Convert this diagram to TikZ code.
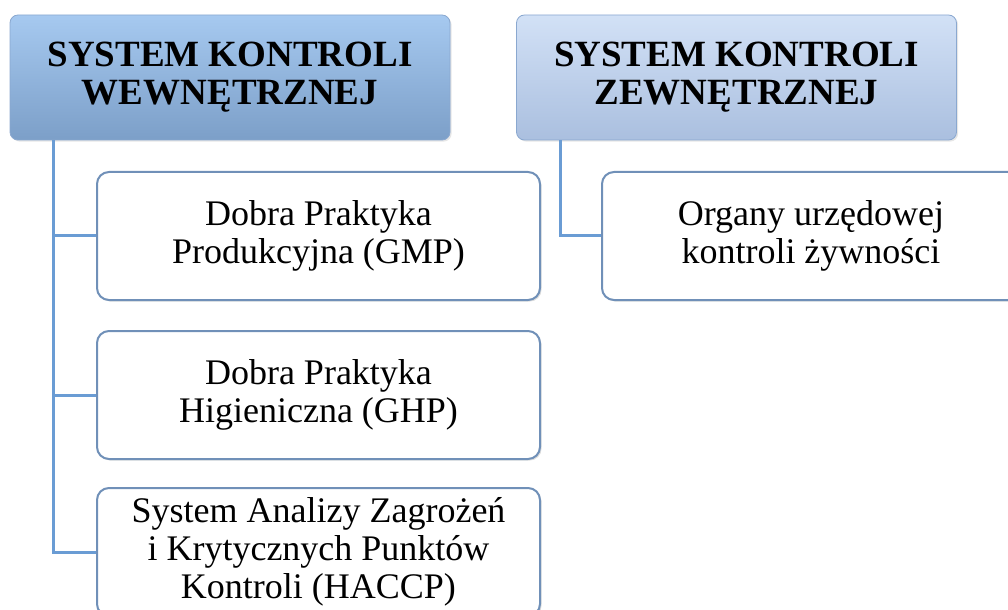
\documentclass[tikz,border=0pt]{standalone}
\usepackage{fontspec}
\setmainfont{Liberation Serif}
\usetikzlibrary{shadows}

\definecolor{headtopA}{HTML}{A6C9F0}
\definecolor{headbotA}{HTML}{7C9FC8}
\definecolor{headtopB}{HTML}{D2E1F6}
\definecolor{headbotB}{HTML}{AABFDF}
\definecolor{headrim}{HTML}{8AA8D0}
\definecolor{itemrim}{HTML}{7090B8}
\definecolor{linkblue}{HTML}{6A9CD4}

\tikzset{
  headbox/.style={rectangle, rounded corners=4pt, draw=headrim, line width=0.4pt,
    minimum width=220pt, minimum height=62.5pt, align=center,
    font=\fontsize{18.5}{19}\selectfont\bfseries,
    drop shadow={opacity=0.2, shadow xshift=0.8pt, shadow yshift=-0.8pt}},
  itembox/.style={rectangle, rounded corners=6pt, draw=itemrim, line width=1pt, fill=white,
    minimum width=221.5pt, minimum height=64pt, align=center,
    font=\fontsize{18}{19}\selectfont,
    drop shadow={opacity=0.25, shadow xshift=0.8pt, shadow yshift=-0.8pt}}
  ,
  link/.style={draw=linkblue, line width=1.5pt}
}

\begin{document}
\begin{tikzpicture}[x=0.5pt,y=-0.5pt]
  \useasboundingbox (0,0) rectangle (1008,610);
  % headers
  \node[headbox, top color=headtopA, bottom color=headbotA] (wew) at (230,77.5) {SYSTEM KONTROLI\\WEWNĘTRZNEJ};
  \node[headbox, top color=headtopB, bottom color=headbotB] (zew) at (736.5,77.5) {SYSTEM KONTROLI\\ZEWNĘTRZNEJ};
  % internal control
  \node[itembox] (gmp) at (318.5,236) {Dobra Praktyka\\Produkcyjna (GMP)};
  \node[itembox] (ghp) at (318.5,395) {Dobra Praktyka\\Higieniczna (GHP)};
  \node[itembox] (haccp) at (318.5,552) {System Analizy Zagrożeń\\i Krytycznych Punktów\\Kontroli (HACCP)};
  % external control
  \node[itembox, minimum width=209pt] (organy) at (811,236) {Organy urzędowej\\kontroli żywności};
  % trunks
  \path (wew.south) ++(-177,0) coordinate (wtop);
  \path (zew.south) ++(-176.5,0) coordinate (ztop);
  \draw[link] (wtop) |- (haccp.west);
  \draw[link] (wtop |- gmp.west) -- (gmp.west);
  \draw[link] (wtop |- ghp.west) -- (ghp.west);
  \draw[link] (ztop) |- (organy.west);
\end{tikzpicture}
\end{document}
